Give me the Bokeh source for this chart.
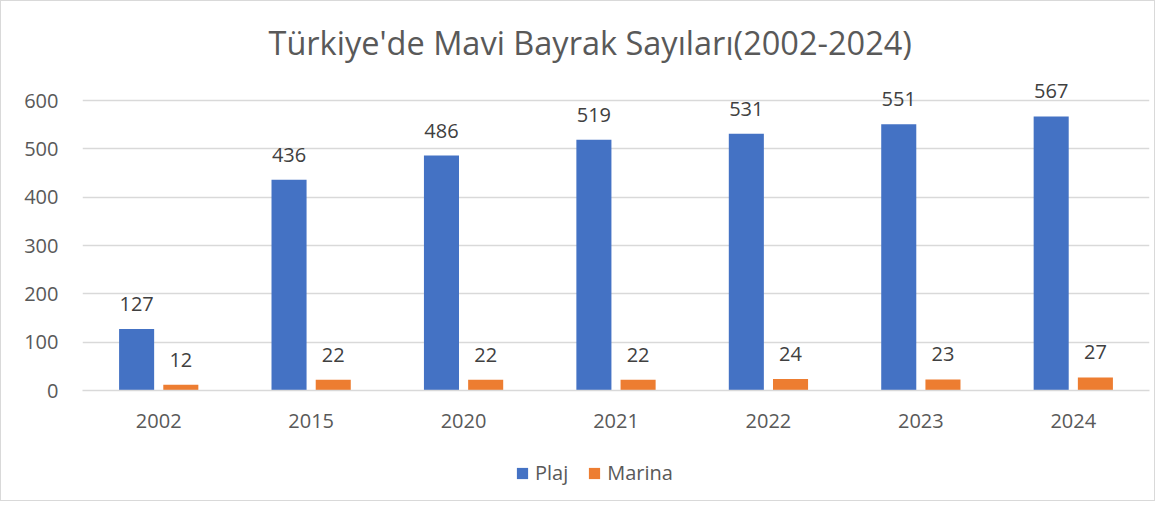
from bokeh.plotting import figure
from bokeh.layouts import column
from bokeh.models import ColumnDataSource, FactorRange, Range1d, Legend, LegendItem, Title, FixedTicker
from bokeh.transform import dodge
from bokeh.core.properties import value
from bokeh.embed import file_html
from bokeh.resources import INLINE

years = ["2002", "2015", "2020", "2021", "2022", "2023", "2024"]
plaj = [127, 436, 486, 519, 531, 551, 567]
marina = [12, 22, 22, 22, 24, 23, 27]
y_ticks = [0, 100, 200, 300, 400, 500, 600]
series_names = ["Plaj", "Marina"]
title_text = "Türkiye'de Mavi Bayrak Sayıları(2002-2024)"

FONT = "Open Sans"
BLUE = "#4472C4"
ORANGE = "#ED7D31"
GRID = "#D9D9D9"
TXT = "#595959"

src = ColumnDataSource(dict(year=years, plaj=plaj, marina=marina,
                            plaj_lbl=[str(v) for v in plaj],
                            marina_lbl=[str(v) for v in marina]))

p = figure(x_range=FactorRange(*years, range_padding=0), y_range=Range1d(0, 660),
           width=1153, height=450, output_backend="svg", toolbar_location=None,
           min_border_left=81, min_border_right=5, min_border_top=70, min_border_bottom=61)
p.x_range.factor_padding = 0

bw = 0.23
off = 0.145
p.vbar(x=dodge("year", -off, range=p.x_range), top="plaj", width=bw, source=src,
       fill_color=BLUE, line_color=None)
p.vbar(x=dodge("year", off, range=p.x_range), top="marina", width=bw, source=src,
       fill_color=ORANGE, line_color=None)

for col, lbl, o in (("plaj", "plaj_lbl", -off), ("marina", "marina_lbl", off)):
    p.text(x=dodge("year", o, range=p.x_range), y=col, text=lbl, source=src,
           text_align="center", text_baseline="middle", y_offset=-25,
           text_font=value(FONT), text_font_size="20px", text_color="#404040")

p.outline_line_color = None
p.background_fill_color = "white"
p.border_fill_color = "white"

p.xgrid.grid_line_color = None
p.ygrid.grid_line_color = GRID
p.ygrid.grid_line_width = 1.3

p.yaxis.ticker = FixedTicker(ticks=y_ticks)
p.yaxis.axis_line_color = None
p.yaxis.major_tick_line_color = None
p.yaxis.minor_tick_line_color = None
p.yaxis.major_tick_out = 0
p.yaxis.major_label_standoff = 24
p.yaxis.major_label_text_font = FONT
p.yaxis.major_label_text_font_size = "20px"
p.yaxis.major_label_text_color = TXT

p.xaxis.axis_line_color = GRID
p.xaxis.axis_line_width = 1.3
p.xaxis.major_tick_line_color = None
p.xaxis.minor_tick_line_color = None
p.xaxis.major_tick_out = 0
p.xaxis.major_label_standoff = 23
p.xaxis.major_label_text_font = FONT
p.xaxis.major_label_text_font_size = "20px"
p.xaxis.major_label_text_color = TXT

title = Title(text=title_text, align="left", offset=186, standoff=12,
              vertical_align="middle", text_font=FONT, text_font_size="32.5px",
              text_font_style="normal", text_color=TXT)
p.add_layout(title, "above")

# legend strip below the chart
lg = figure(width=1153, height=49, output_backend="svg", toolbar_location=None,
            x_range=Range1d(0, 1), y_range=Range1d(0, 1),
            x_axis_location=None, y_axis_location=None,
            min_border=0, min_border_left=0, min_border_right=0,
            min_border_top=0, min_border_bottom=0)
lg.grid.visible = False
lg.outline_line_color = None
lg.background_fill_color = "white"
lg.border_fill_color = "white"
k1 = lg.vbar(x=[-5], top=[-5], bottom=[-6], width=0.1, fill_color=BLUE, line_color=None)
k2 = lg.vbar(x=[-5], top=[-5], bottom=[-6], width=0.1, fill_color=ORANGE, line_color=None)

legend = Legend(items=[LegendItem(label=series_names[0], renderers=[k1]),
                       LegendItem(label=series_names[1], renderers=[k2])],
                location=(433, 14), orientation="horizontal",
                glyph_width=14, glyph_height=14, label_height=20,
                label_text_font=FONT, label_text_font_size="20px",
                label_text_color=TXT, label_standoff=6, spacing=19,
                padding=0, margin=0, border_line_color=None,
                background_fill_alpha=0)
lg.add_layout(legend, "center")

layout = column(p, lg, spacing=0)
layout.styles = {"border": "1px solid #D9D9D9"}

open("out.html", "w").write(file_html(layout, INLINE))
